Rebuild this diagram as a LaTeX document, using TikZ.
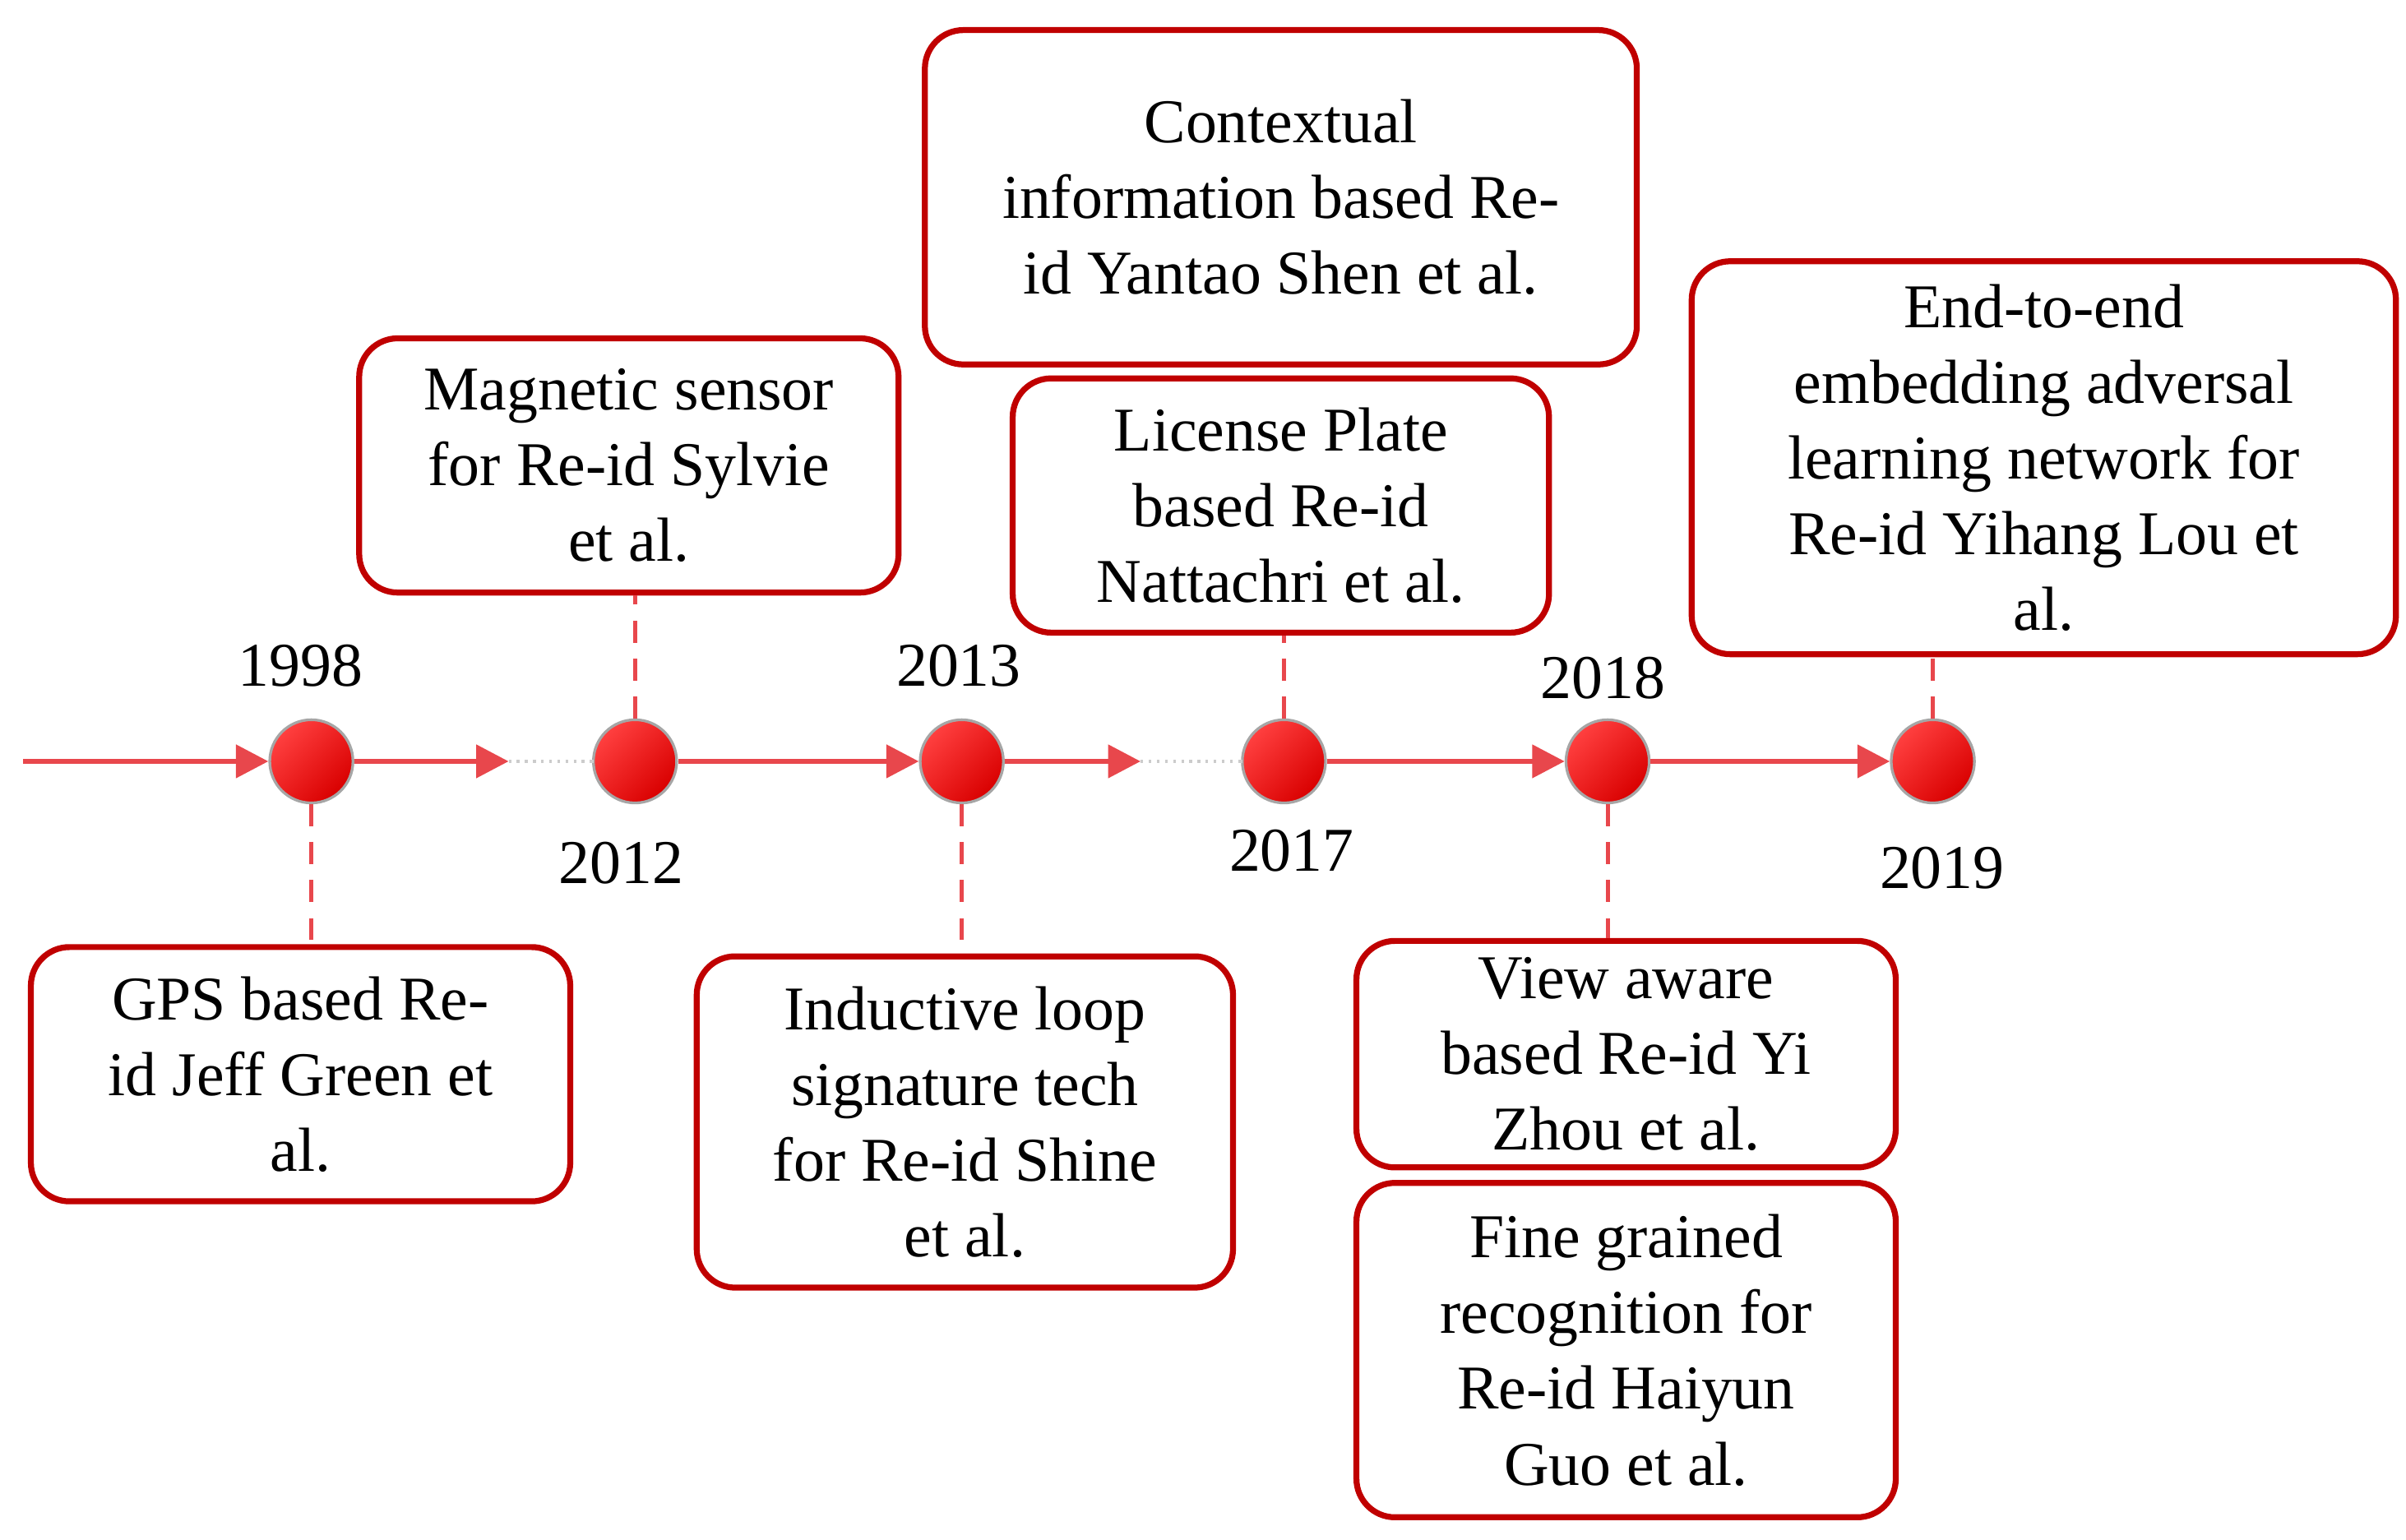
\documentclass[tikz,border=0pt]{standalone}
\usepackage{fontspec}
\setmainfont{Liberation Serif}
\usetikzlibrary{arrows.meta}
\definecolor{bred}{HTML}{C00000}
\definecolor{lred}{HTML}{E8474C}
\begin{document}
\begin{tikzpicture}[x=0.02cm,y=-0.02cm,
 box/.style={draw=bred,line width=2.2pt,rounded corners=0.5cm,fill=white,align=center,font=\fontsize{23}{28}\selectfont,inner sep=0pt},
 yr/.style={font=\fontsize{23}{28}\selectfont},
 dot/.style={circle,minimum size=1.08cm,inner sep=0pt,draw=gray!70,line width=1pt,shading=axis,top color=red!75,bottom color=red!85!black,shading angle=45},
 arr/.style={draw=lred,line width=2pt,-{Triangle[length=12pt,width=12pt]}},
 dots/.style={draw=gray!40,line width=1pt,dotted},
 con/.style={draw=lred,line width=1.5pt,dash pattern=on 8pt off 6pt}]
\useasboundingbox (0,0) rectangle (1561,999);
\coordinate (s) at (15,494);
\node[dot] (c1) at (202,494) {};
\node[dot] (c2) at (412,494) {};
\node[dot] (c3) at (624,494) {};
\node[dot] (c4) at (833,494) {};
\node[dot] (c5) at (1043,494) {};
\node[dot] (c6) at (1254,494) {};
\coordinate (a1) at (330,494); \coordinate (a2) at (385,494);
\coordinate (b1) at (740,494); \coordinate (b2) at (806,494);
\node[box,minimum width=7cm,minimum height=3.3cm] (g) at (195,697) {GPS based Re-\\id Jeff Green et\\al.};
\node[box,minimum width=7cm,minimum height=3.3cm] (m) at (408,302) {Magnetic sensor\\for Re-id Sylvie\\et al.};
\node[box,minimum width=6.96cm,minimum height=4.3cm] (i) at (626,728) {Inductive loop\\signature tech\\for Re-id Shine\\et al.};
\node[box,minimum width=9.24cm,minimum height=4.34cm] (ct) at (831,128) {Contextual\\information based Re-\\id Yantao Shen et al.};
\node[box,minimum width=6.96cm,minimum height=3.3cm] (l) at (831,328) {License Plate\\based Re-id\\Nattachri et al.};
\node[box,minimum width=7cm,minimum height=2.94cm] (v) at (1055,684) {View aware\\based Re-id Yi\\Zhou et al.};
\node[box,minimum width=7cm,minimum height=4.34cm] (f) at (1055,876) {Fine grained\\recognition for\\Re-id Haiyun\\Guo et al.};
\node[box,minimum width=9.14cm,minimum height=5.1cm] (e) at (1326,297) {End-to-end\\embedding adversal\\learning network for\\Re-id Yihang Lou et\\al.};
\node[yr] (y1) at (195,432) {1998};
\node[yr] (y2) at (403,560) {2012};
\node[yr] (y3) at (622,432) {2013};
\node[yr] (y4) at (838,552) {2017};
\node[yr] (y5) at (1040,440) {2018};
\node[yr] (y6) at (1260,563) {2019};
\draw[arr] (s) -- (c1);
\draw[arr] (c1) -- (a1);
\draw[dots] (a1) -- (a2);
\draw[dots] (a2) -- (c2);
\draw[arr] (c2) -- (c3);
\draw[arr] (c3) -- (b1);
\draw[dots] (b1) -- (b2);
\draw[dots] (b2) -- (c4);
\draw[arr] (c4) -- (c5);
\draw[arr] (c5) -- (c6);
\draw[con] (c1) -- (c1 |- g.north);
\draw[con] (c2) -- (c2 |- m.south);
\draw[con] (c3) -- (c3 |- i.north);
\draw[con] (c4) -- (c4 |- l.south);
\draw[con] (c5) -- (c5 |- v.north);
\draw[con] (c6) -- (c6 |- e.south);
\end{tikzpicture}
\end{document}
